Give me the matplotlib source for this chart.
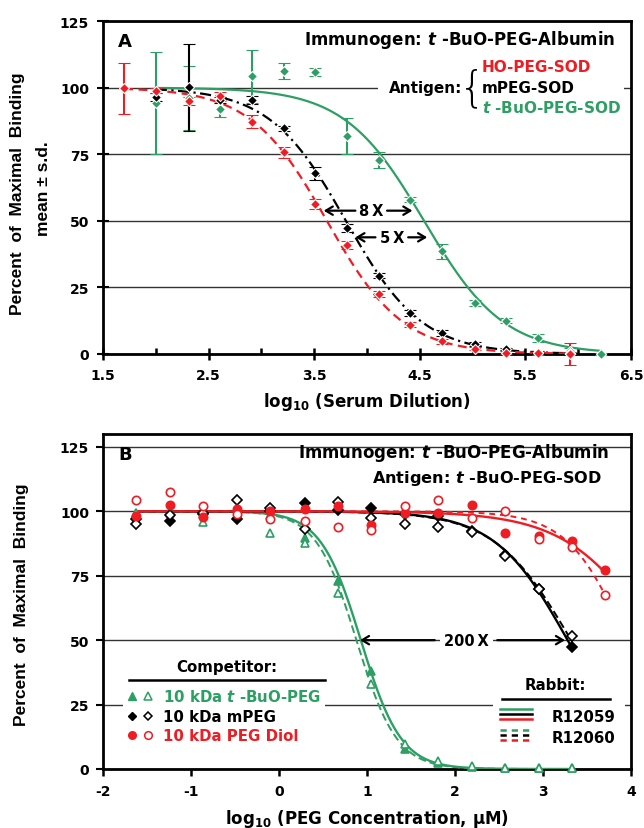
import numpy as np
import matplotlib
matplotlib.use('Agg')
import matplotlib.pyplot as plt
from matplotlib.lines import Line2D
from matplotlib.patches import Rectangle

plt.rcParams['font.family'] = ['DejaVu Sans']
plt.rcParams['font.weight'] = 'bold'
plt.rcParams['mathtext.fontset'] = 'custom'
plt.rcParams['mathtext.rm'] = 'DejaVu Sans:bold'
plt.rcParams['mathtext.it'] = 'DejaVu Sans:italic:bold'
plt.rcParams['mathtext.bf'] = 'DejaVu Sans:bold'

RED = '#ee1d24'
GREEN = '#2e9f64'
BLACK = '#000000'

# ---------------- Panel A data: log10(serum dilution) vs % maximal binding ----------------
dil_red = [1.70, 2.00, 2.31, 2.61, 2.91, 3.21, 3.51, 3.81, 4.11, 4.41, 4.71, 5.02, 5.32, 5.62, 5.92]
red_mean = [99.7, 98.8, 95.1, 97.0, 87.2, 75.7, 56.3, 41.0, 22.5, 11.0, 4.8, 2.0, 0.5, 0.2, 0.0]
red_sd = [9.5, 1.0, 1.5, 1.5, 2.5, 2.0, 2.0, 1.5, 1.0, 1.0, 1.0, 0.5, 0.5, 0.5, 4.0]

dil_black = [2.00, 2.31, 2.61, 2.91, 3.21, 3.51, 3.81, 4.11, 4.41, 4.71, 5.02, 5.32, 5.62, 5.92]
black_mean = [96.6, 100.1, 95.3, 95.3, 84.7, 67.8, 47.3, 29.4, 15.4, 7.9, 3.8, 1.9, 0.7, 0.3]
black_sd = [1.5, 16.3, 1.0, 1.5, 1.0, 2.5, 1.5, 1.0, 1.0, 1.0, 0.8, 0.5, 0.5, 0.5]

dil_green = [2.00, 2.31, 2.61, 2.91, 3.21, 3.51, 3.81, 4.11, 4.41, 4.71, 5.02, 5.32, 5.62, 5.92, 6.22]
green_mean = [94.2, 96.2, 92.0, 104.2, 106.3, 106.0, 81.8, 72.8, 57.9, 38.5, 19.1, 12.5, 6.0, 1.1, 0.0]
green_sd = [19.0, 12.0, 3.0, 10.0, 3.0, 1.5, 6.8, 3.0, 1.0, 2.8, 1.0, 1.0, 1.5, 1.0, 0.5]

# fitted curves (log EC50, Hill slope)
fitA_red = [3.62, 1.20]
fitA_black = [3.80, 1.20]
fitA_green = [4.54, 1.15]

# ---------------- Panel B data: log10(PEG concentration, uM) ----------------
conc = [-1.62, -1.24, -0.86, -0.48, -0.10, 0.29, 0.67, 1.05, 1.43, 1.81, 2.19, 2.57, 2.95, 3.33, 3.71]
green_r59 = [99.5, 100.0, 99.0, 99.0, 98.5, 89.5, 73.1, 38.2, 7.8, 2.5, 0.8, 0.3, 0.2, 0.2]
green_r60 = [99.3, 99.3, 96.0, 98.3, 91.6, 87.7, 68.3, 33.0, 9.7, 3.0, 1.0, 0.3, 0.3, 0.3]
black_r59 = [97.0, 96.4, 98.8, 97.0, 100.0, 103.3, 100.5, 101.2, 99.0, 98.0, 92.5, 83.0, 70.0, 47.2]
black_r60 = [95.1, 98.5, 99.5, 104.4, 101.3, 93.2, 103.5, 97.4, 94.9, 94.1, 91.9, 82.8, 69.9, 51.8]
red_r59 = [98.0, 102.5, 97.9, 100.9, 100.0, 101.0, 102.2, 94.5, 99.5, 99.4, 102.5, 91.5, 90.3, 88.6, 77.4]
red_r60 = [104.2, 107.6, 102.0, 99.0, 97.2, 96.1, 94.1, 92.8, 102.0, 104.2, 97.3, 100.0, 89.3, 86.0, 67.6]

fitB_green_r59 = [0.93, 1.90]
fitB_green_r60 = [0.88, 1.90]
fitB_black_r59 = [3.28, 1.05]
fitB_black_r60 = [3.32, 1.00]
fitB_red_r59 = [4.30, 0.85]
fitB_red_r60 = [3.95, 1.30]


def logistic(x, p):
    return 100.0 / (1.0 + 10 ** (p[1] * (x - p[0])))


fig = plt.figure(figsize=(6.44, 8.29), dpi=100)
axA = fig.add_axes([103 / 644, 1 - 355 / 829, 528 / 644, 333 / 829])
axB = fig.add_axes([103 / 644, 1 - 770 / 829, 528 / 644, 335 / 829])

TICK_FS = 10
TXT_FS = 12
LEG_FS = 10.8
YLAB = dict(family=['Liberation Sans', 'DejaVu Sans'], fontsize=12.5, fontweight='bold')

for ax in (axA, axB):
    ax.set_axisbelow(True)
    for s in ax.spines.values():
        s.set_linewidth(2.0)
    ax.yaxis.grid(True, color='#333333', lw=1.0)
    ax.xaxis.grid(False)

# ================= Panel A =================
ax = axA
ax.set_xlim(1.5, 6.5)
ax.set_ylim(0, 125)
ax.set_xticks([1.5, 2.5, 3.5, 4.5, 5.5, 6.5])
ax.set_xticklabels(['1.5', '2.5', '3.5', '4.5', '5.5', '6.5'])
ax.set_xticks([2.0, 3.0, 4.0, 5.0, 6.0], minor=True)
ax.set_yticks([0, 25, 50, 75, 100, 125])
ax.set_yticklabels(['0', '25', '50', '75', '100', '125'])
ax.tick_params(axis='x', which='major', direction='inout', length=8, width=1.8,
               labelsize=TICK_FS, pad=6)
ax.tick_params(axis='x', which='minor', direction='in', length=4, width=1.8)
ax.tick_params(axis='y', which='major', direction='inout', length=8, width=1.5,
               labelsize=TICK_FS, pad=6)
ax.set_xlabel('log$_{10}$ (Serum Dilution)', fontsize=TXT_FS, fontweight='bold', labelpad=6)

series_A = [
    (dil_green, green_mean, green_sd, fitA_green, GREEN, '-'),
    (dil_black, black_mean, black_sd, fitA_black, BLACK, (0, (5, 2, 1, 2))),
    (dil_red, red_mean, red_sd, fitA_red, RED, (0, (4, 2.5))),
]
for xs, ms, sd, fit, col, ls in series_A:
    xx = np.linspace(min(xs), max(xs), 300)
    ax.plot(xx, logistic(xx, fit), color=col, lw=1.6, ls=ls, zorder=3)
    ax.errorbar(xs, ms, yerr=sd, fmt='D', ms=5.5, color=col, mfc=col, mec='white',
                mew=0.8, ecolor=col, elinewidth=1.5, capsize=4, capthick=1.5,
                zorder=4, clip_on=False)

# white gap behind the antigen text
ax.add_patch(Rectangle((0.521, 0.77), 0.465, 0.06, transform=ax.transAxes,
                       fc='white', ec='none', zorder=1.5))

ax.text(0.042, 0.94, 'A', transform=ax.transAxes, fontsize=13, fontweight='bold',
        ha='center', va='center')
ax.text(0.97, 0.946, 'Immunogen: $\\mathit{t}$ -BuO-PEG-Albumin', transform=ax.transAxes,
        fontsize=TXT_FS, ha='right', va='center')
ax.text(0.68, 0.80, 'Antigen:', transform=ax.transAxes, fontsize=11,
        ha='right', va='center')
ax.text(0.699, 0.80, '{', transform=ax.transAxes, fontsize=30, fontweight='ultralight',
        family=['DejaVu Sans'], ha='center', va='center')
ax.text(0.718, 0.862, 'HO-PEG-SOD', transform=ax.transAxes, fontsize=11,
        color=RED, ha='left', va='center')
ax.text(0.718, 0.800, 'mPEG-SOD', transform=ax.transAxes, fontsize=11,
        color=BLACK, ha='left', va='center')
ax.text(0.718, 0.743, '$\\mathit{t}$ -BuO-PEG-SOD', transform=ax.transAxes,
        fontsize=11, color=GREEN, ha='left', va='center')

arrow_kw = dict(arrowstyle='->,head_length=0.5,head_width=0.3', lw=1.6, color='black',
                shrinkA=0, shrinkB=0)
# 8X arrows
ax.annotate('', xy=(3.59, 53.8), xytext=(3.89, 53.8), arrowprops=arrow_kw, zorder=5)
ax.text(4.04, 53.8, '8\u2009X', fontsize=10.5, ha='center', va='center', zorder=5)
ax.annotate('', xy=(4.43, 53.8), xytext=(4.19, 53.8), arrowprops=arrow_kw, zorder=5)
# 5X arrows
ax.annotate('', xy=(3.89, 43.8), xytext=(4.08, 43.8), arrowprops=arrow_kw, zorder=5)
ax.text(4.24, 43.8, '5\u2009X', fontsize=10.5, ha='center', va='center', zorder=5)
ax.annotate('', xy=(4.57, 43.8), xytext=(4.39, 43.8), arrowprops=arrow_kw, zorder=5)

fig.text(18 / 644, 1 - 194 / 829, 'Percent  of  Maximal  Binding', rotation=90,
         ha='center', va='center', **YLAB)
fig.text(43 / 644, 1 - 189 / 829, 'mean ± s.d.', rotation=90,
         ha='center', va='center', **YLAB)

# ================= Panel B =================
ax = axB
ax.set_xlim(-2, 4)
ax.set_ylim(0, 130)
ax.set_xticks([-2, -1, 0, 1, 2, 3, 4])
ax.set_xticklabels(['-2', '-1', '0', '1', '2', '3', '4'])
ax.set_yticks([0, 25, 50, 75, 100, 125])
ax.set_yticklabels(['0', '25', '50', '75', '100', '125'])
ax.tick_params(axis='x', direction='out', length=5, width=1.8, labelsize=TICK_FS, pad=6)
ax.tick_params(axis='y', direction='out', length=5, width=1.5, labelsize=TICK_FS, pad=5)
ax.set_xlabel('log$_{10}$ (PEG Concentration, μM)', fontsize=TXT_FS, fontweight='bold',
              labelpad=6)

series_B = [
    (green_r59, fitB_green_r59, GREEN, '-', '^', True),
    (green_r60, fitB_green_r60, GREEN, (0, (4, 2)), '^', False),
    (black_r59, fitB_black_r59, BLACK, '-', 'D', True),
    (black_r60, fitB_black_r60, BLACK, (0, (4, 2)), 'D', False),
    (red_r59, fitB_red_r59, RED, '-', 'o', True),
    (red_r60, fitB_red_r60, RED, (0, (3, 2.5)), 'o', False),
]
for ys, fit, col, ls, mk, filled in series_B:
    xs = conc[:len(ys)]
    xx = np.linspace(min(xs), max(xs), 300)
    ax.plot(xx, logistic(xx, fit), color=col, lw=1.7 if filled else 1.4, ls=ls, zorder=3)
for ys, fit, col, ls, mk, filled in series_B:
    xs = conc[:len(ys)]
    ms = 6.0 if mk != 'D' else 5.0
    ax.plot(xs, ys, ls='none', marker=mk, ms=ms, color=col,
            mfc=col if filled else 'white', mec=col, mew=1.2, zorder=4, clip_on=False)

ax.text(0.042, 0.94, 'B', transform=ax.transAxes, fontsize=13, fontweight='bold',
        ha='center', va='center')
ax.text(0.960, 0.946, 'Immunogen: $\\mathit{t}$ -BuO-PEG-Albumin', transform=ax.transAxes,
        fontsize=TXT_FS, ha='right', va='center')
ax.text(0.945, 0.869, 'Antigen: $\\mathit{t}$ -BuO-PEG-SOD', transform=ax.transAxes,
        fontsize=11.6, ha='right', va='center')

# 200X arrows
ax.annotate('', xy=(0.92, 50), xytext=(1.77, 50), arrowprops=arrow_kw, zorder=5)
ax.text(2.13, 50, '200\u2009X', fontsize=10.5, ha='center', va='center', zorder=5,
        bbox=dict(fc='white', ec='none', pad=3))
ax.annotate('', xy=(3.25, 50), xytext=(2.48, 50), arrowprops=arrow_kw, zorder=5)

# Competitor legend
ax.add_patch(Rectangle((0.038, 0.085), 0.382, 0.25, transform=ax.transAxes,
                       fc='white', ec='none', zorder=1.5))
ax.text(0.235, 0.307, 'Competitor:', transform=ax.transAxes, fontsize=LEG_FS,
        ha='center', va='center')
ax.add_line(Line2D([0.049, 0.420], [0.266, 0.266], transform=ax.transAxes,
                   color='black', lw=1.8))
comp_rows = [
    ('^', GREEN, '10 kDa $\\mathit{t}$ -BuO-PEG', 0.218),
    ('D', BLACK, '10 kDa mPEG', 0.158),
    ('o', RED, '10 kDa PEG Diol', 0.101),
]
for mk, col, lab, yy in comp_rows:
    s = 5.5 if mk != 'D' else 4.5
    ax.add_line(Line2D([0.055], [yy], transform=ax.transAxes, ls='none', marker=mk,
                       ms=s, color=col, mfc=col, mec=col, mew=1.0))
    ax.add_line(Line2D([0.085], [yy], transform=ax.transAxes, ls='none', marker=mk,
                       ms=s, color=col, mfc='white', mec=col, mew=1.1))
    ax.text(0.114, yy, lab, transform=ax.transAxes, fontsize=LEG_FS, color=col,
            ha='left', va='center')

# Rabbit legend
ax.add_patch(Rectangle((0.739, 0.07), 0.25, 0.21, transform=ax.transAxes,
                       fc='white', ec='none', zorder=1.5))
ax.text(0.856, 0.251, 'Rabbit:', transform=ax.transAxes, fontsize=LEG_FS,
        ha='center', va='center')
ax.add_line(Line2D([0.756, 0.960], [0.209, 0.209], transform=ax.transAxes,
                   color='black', lw=1.8))
rab_rows = [('R12059', '-', [0.179, 0.164, 0.148], 0.158),
            ('R12060', (0, (2.5, 2)), [0.116, 0.101, 0.086], 0.0955)]
for lab, ls, ys3, yt in rab_rows:
    for col, yl in zip([GREEN, BLACK, RED], ys3):
        ax.add_line(Line2D([0.752, 0.8125], [yl, yl], transform=ax.transAxes,
                           color=col, lw=1.8, ls=ls))
    ax.text(0.850, yt, lab, transform=ax.transAxes, fontsize=LEG_FS, ha='left',
            va='center')

fig.text(22 / 644, 1 - 605 / 829, 'Percent  of  Maximal  Binding', rotation=90,
         ha='center', va='center', **YLAB)

fig.savefig('out.png', dpi=100)
